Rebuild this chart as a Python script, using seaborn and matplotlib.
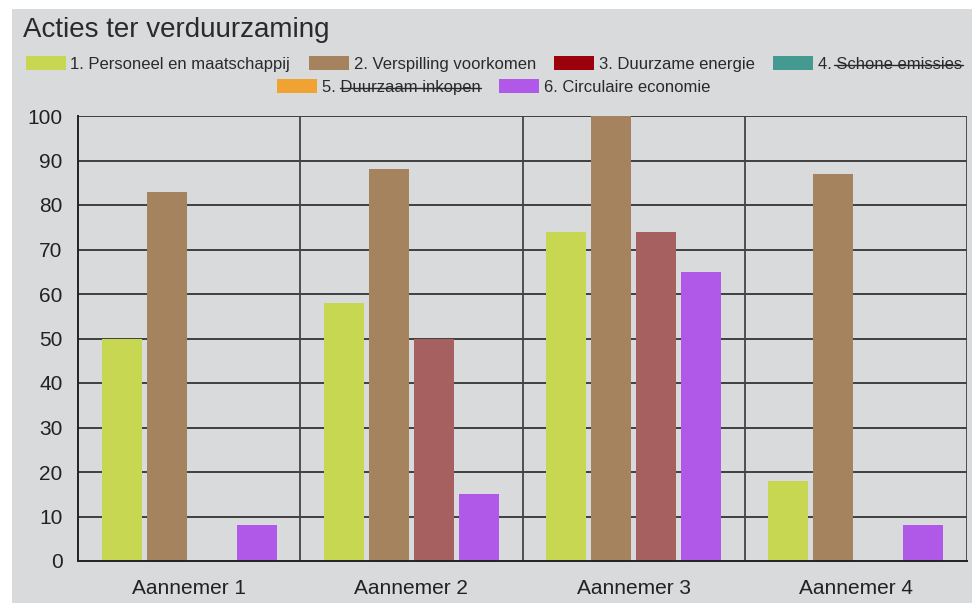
import pandas as pd
import seaborn as sns
import matplotlib.pyplot as plt
from matplotlib.patches import Patch, Rectangle
from matplotlib.lines import Line2D

# data
contractors = ['Aannemer 1', 'Aannemer 2', 'Aannemer 3', 'Aannemer 4']
series_names = ['1. Personeel en maatschappij', '2. Verspilling voorkomen',
                '3. Duurzame energie', '4. Schone emissies',
                '5. Duurzaam inkopen', '6. Circulaire economie']
hidden_series = ['4. Schone emissies', '5. Duurzaam inkopen']
personeel = [50, 58, 74, 18]
verspilling = [83, 88, 100, 87]
energie = [None, 50, 74, None]
circulair = [8, 15, 65, 8]

bar_colors = ['#c8d751', '#a5835e', '#a66060', '#b058e8']
legend_colors = ['#c8d751', '#a5835e', '#9b000b', '#449a90', '#f0a232', '#b058e8']

visible = [series_names[0], series_names[1], series_names[2], series_names[5]]
rows = []
for name, vals in zip(visible, [personeel, verspilling, energie, circulair]):
    for c, v in zip(contractors, vals):
        rows.append({'aannemer': c, 'serie': name, 'waarde': v})
df = pd.DataFrame(rows)

sns.set_theme(style='white')
plt.rcParams['font.family'] = ['Liberation Sans', 'DejaVu Sans']

fig = plt.figure(figsize=(9.72, 6.03), dpi=100, facecolor='white')
fig.patches.append(Rectangle((12 / 972, 0), 1, 1 - 9 / 603, transform=fig.transFigure,
                             facecolor='#d9dadc', edgecolor='none', zorder=-10))
ax = fig.add_axes([78 / 972, 1 - 561 / 603, (967 - 78) / 972, (561 - 116) / 603])
ax.set_facecolor('#d9dadc')

sns.barplot(data=df, x='aannemer', y='waarde', hue='serie', hue_order=visible,
            palette=bar_colors, width=0.81, gap=0.11, saturation=1,
            linewidth=0, edgecolor='none', legend=False, ax=ax, zorder=3)

ax.set_ylim(0, 100)
ax.set_xlim(-0.5, 3.5)
ax.set_yticks(range(0, 101, 10))
for y in range(10, 101, 10):
    ax.axhline(y, color='#333333', lw=1.3, zorder=1)
for x in [0.5, 1.5, 2.5, 3.5]:
    ax.axvline(x, color='#444444', lw=1.3, zorder=1)
for side in ['top', 'right']:
    ax.spines[side].set_visible(False)
for side in ['left', 'bottom']:
    ax.spines[side].set_color('#222222')
    ax.spines[side].set_linewidth(1.4)
    ax.spines[side].set_zorder(4)
ax.set_xlabel('')
ax.set_ylabel('')
ax.tick_params(axis='y', length=0, pad=11, labelsize=15, labelcolor='#222222')
ax.tick_params(axis='x', length=0, pad=13, labelsize=15, labelcolor='#222222')

fig.text(23 / 972, 1 - 37 / 603, 'Acties ter verduurzaming', fontsize=20,
         color='#2a2a2a', va='baseline', ha='left')

handles = [Patch(facecolor=c, edgecolor='none') for c in legend_colors]
leg_kw = dict(frameon=False, fontsize=12, handlelength=2.4, handleheight=0.85,
              handletextpad=0.3, columnspacing=1.1, borderpad=0, borderaxespad=0,
              labelcolor='#2a2a2a')
leg1 = fig.legend(handles[:4], series_names[:4], ncol=4, loc='center',
                  bbox_to_anchor=(494 / 972, 1 - 64 / 603), **leg_kw)
leg2 = fig.legend(handles[4:], series_names[4:], ncol=2, loc='center',
                  bbox_to_anchor=(494 / 972, 1 - 87 / 603), **leg_kw)

# strike through the hidden series in the legend
fig.canvas.draw()
renderer = fig.canvas.get_renderer()
inv = fig.transFigure.inverted()
for leg in [leg1, leg2]:
    for t in leg.get_texts():
        if t.get_text() in hidden_series:
            bb = t.get_window_extent(renderer)
            x0 = bb.x0 + 0.11 * bb.width
            ymid = bb.y0 + 0.47 * bb.height
            (fx0, fy), (fx1, _) = inv.transform([(x0, ymid), (bb.x1, ymid)])
            fig.lines.append(Line2D([fx0, fx1], [fy, fy], transform=fig.transFigure,
                                    color='#2a2a2a', lw=1.0))

fig.savefig('out.png', dpi=100, facecolor=fig.get_facecolor())
